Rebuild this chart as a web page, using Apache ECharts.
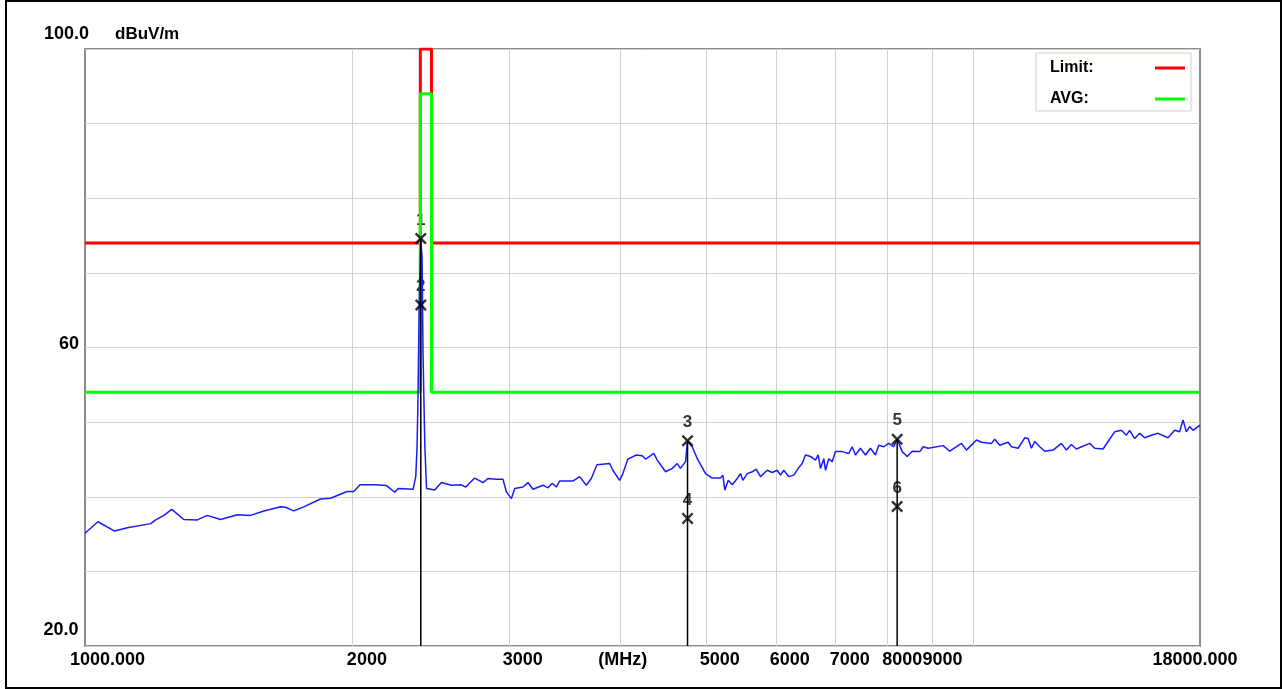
<!DOCTYPE html>
<html>
<head>
<meta charset="utf-8">
<script src="https://cdn.jsdelivr.net/npm/echarts@6/dist/echarts.min.js"></script>
<style>
html,body{margin:0;padding:0;background:#fff;}
#frame{position:absolute;left:5px;top:0;width:1277px;height:689px;border:2px solid #000;box-sizing:border-box;}
#chart{position:absolute;left:0;top:0;width:1282px;height:689px;}
</style>
</head>
<body>
<div id="frame"></div>
<div id="chart"></div>
<script>
// ---- data ----
const traceFreqMHz = [1000,1034,1080,1116,1186,1201,1227,1252,1292,1338,1373,1421,1484,1536,1590,1660,1682,1718,1763,1841,1890,1973,2007,2040,2120,2185,2232,2252,2341,2357,2365,2371,2378,2388,2396,2402,2413,2424,2476,2519,2585,2653,2683,2746,2806,2842,2905,2955,2981,3020,3046,3112,3153,3194,3278,3320,3358,3393,3422,3542,3604,3668,3715,3770,3896,3929,3998,4032,4085,4175,4240,4277,4370,4408,4504,4583,4643,4682,4743,4768,4827,4890,4996,5083,5194,5225,5252,5299,5354,5424,5470,5503,5566,5639,5697,5761,5862,5938,6016,6067,6119,6199,6280,6362,6418,6473,6558,6643,6690,6730,6788,6818,6876,6937,6997,7119,7242,7306,7369,7465,7562,7661,7760,7827,7929,8032,8137,8210,8318,8426,8536,8706,8783,8897,9250,9410,9699,9825,10083,10215,10483,10573,10710,10946,11040,11234,11428,11529,11628,11728,11880,12035,12300,12567,12731,12897,13065,13523,13700,14001,14183,14428,14681,14873,15000,15196,15394,15595,15868,16146,16569,16855,17075,17226,17374,17523,17678,18000];
const traceLevel = [35.1,36.65,35.4,35.85,36.4,36.9,37.5,38.3,36.95,36.9,37.5,36.95,37.6,37.5,38.1,38.65,38.6,38.1,38.65,39.7,39.8,40.7,40.7,41.6,41.6,41.5,40.6,41.1,41.0,42.7,46.7,53.4,66.0,74.6,72.0,59.0,46.9,41.1,40.9,41.9,41.55,41.6,41.3,42.5,41.9,42.45,42.35,42.35,40.65,39.75,41.1,41.3,41.9,41.0,41.55,41.2,41.8,41.3,42.1,42.1,42.7,41.55,42.45,44.3,44.45,43.55,42.2,43.1,45.05,45.6,45.5,45.05,45.8,44.9,43.35,43.8,44.45,43.8,44.7,47.45,46.7,45.1,43.1,42.5,42.5,42.9,40.9,42.2,41.6,42.45,43.1,42.2,43.1,43.35,43.7,42.7,43.55,43.25,43.55,42.9,43.55,42.7,42.9,43.9,44.45,45.6,45.4,44.9,45.6,43.8,45.1,43.55,45.1,44.7,46.05,46.05,45.8,46.7,45.6,46.5,45.6,46.5,45.6,46.9,46.7,47.15,46.7,47.7,46.05,45.4,46.1,46.05,46.7,46.5,46.85,46.1,47.15,46.25,47.6,47.3,47.15,47.7,46.9,47.3,46.7,46.5,47.9,47.8,46.5,47.4,46.7,46.1,46.25,47.15,46.25,47.0,46.4,47.15,46.5,46.4,47.4,48.7,48.9,48.25,48.9,47.8,48.5,47.9,48.25,48.5,47.9,48.9,48.7,50.3,48.7,49.4,48.9,49.6];

const limitFreqMHz = [1000,2385,2385,2455,2455,18000];
const limitLevel   = [74,74,100,100,74,74];
const avgFreqMHz   = [1000,2385,2385,2455,2455,18000];
const avgLevel     = [54,54,94,94,54,54];

const markerFreqMHz = [2388,2388,4768,4768,8210,8210];
const markerLevel   = [74.6,65.7,47.5,37.1,47.7,38.7];
const markerNames   = ['1','2','3','4','5','6'];

const xGridValues  = [2000,3000,4000,5000,6000,7000,8000,9000,10000];
const xLabelValues = [1000,2000,3000,4000,5000,6000,7000,8000,9000,18000];
const xLabelTexts  = ['1000.000','2000','3000','(MHz)','5000','6000','7000','8000','9000','18000.000'];
const yLabelValues = [20,60,100];
const yLabelTexts  = ['20.0','60','100.0'];

// ---- build ----
const FONT = "'Liberation Sans', Arial, sans-serif";
const zip = (a,b) => a.map((v,i)=>[v,b[i]]);

const xRichKeys = ['s0','s1','s2','s3','s4','s5','s6','s7','s8','s9'];
const xPads = [[0,0,0,45],[0,0,0,29],[0,0,0,28],[0,0,0,6],[0,0,0,28],[0,0,0,27],[0,0,0,28],[0,0,0,30],[0,0,0,20],[0,10,0,0]];
const xRich = {};
xRichKeys.forEach((k,i)=>{ xRich[k] = {fontFamily:FONT,fontWeight:'bold',fontSize:18,color:'#000',padding:xPads[i]}; });

const yRich = {
  y0:{fontFamily:FONT,fontWeight:'bold',fontSize:18,color:'#000',padding:[0,16,32,0]},
  y1:{fontFamily:FONT,fontWeight:'bold',fontSize:18,color:'#000',padding:[0,0,7,0]},
  y2:{fontFamily:FONT,fontWeight:'bold',fontSize:18,color:'#000',padding:[0,5,30,0]}
};

const markerLineSeries = [];
const seen = {};
markerFreqMHz.forEach((f,i)=>{
  if (seen[f] === undefined || markerLevel[i] > seen[f]) seen[f] = markerLevel[i];
});
Object.keys(seen).forEach(k=>{
  const f = Number(k);
  markerLineSeries.push({
    type:'line', silent:true, symbol:'none', z:4,
    data:[[f, seen[k]],[f, 20]],
    lineStyle:{color:'#000', width:1.5}
  });
});

const xPath = 'path://M0,1.4L1.4,0L5,3.6L8.6,0L10,1.4L6.4,5L10,8.6L8.6,10L5,6.4L1.4,10L0,8.6L3.6,5Z';

const chart = echarts.init(document.getElementById('chart'), null, {renderer:'canvas'});
chart.setOption({
  animation:false,
  backgroundColor:'transparent',
  textStyle:{fontFamily:FONT},
  grid:{left:85, right:82, top:49, bottom:43, show:true, borderColor:'#8c8c8c', borderWidth:2, backgroundColor:'#fff', outerBoundsMode:'none', containLabel:false},
  legend:{
    show:true, orient:'vertical', left:1036, top:53,
    data:['Limit:','AVG:'], align:'right', icon:'rect', itemWidth:30, itemHeight:3, itemGap:15,
    backgroundColor:'#fff', borderColor:'#d4d0c8', borderWidth:1, padding:[7,6,4,14],
    selectedMode:false,
    formatter:'{n|{name}}',
    textStyle:{fontFamily:FONT, fontWeight:'bold', fontSize:16, color:'#000',
      rich:{n:{width:100, align:'left', fontFamily:FONT, fontWeight:'bold', fontSize:16, color:'#000'}}}
  },
  xAxis:{
    type:'log', logBase:10, min:1000, max:18000,
    axisLine:{show:false},
    axisTick:{show:false, customValues:xGridValues},
    splitLine:{show:true, lineStyle:{color:'#d4d0c8', width:1}},
    axisLabel:{
      customValues:xLabelValues, margin:5,
      fontFamily:FONT, fontWeight:'bold', fontSize:18, color:'#000',
      formatter:function(v){ const i = xLabelValues.indexOf(v); return i<0 ? '' : '{'+xRichKeys[i]+'|'+xLabelTexts[i]+'}'; },
      rich:xRich
    }
  },
  yAxis:{
    type:'value', min:20, max:100, interval:10,
    name:'dBuV/m', nameLocation:'end', nameGap:6,
    nameTextStyle:{fontFamily:FONT, fontWeight:'bold', fontSize:17, color:'#000', align:'left', padding:[0,0,0,30]},
    axisLine:{show:false}, axisTick:{show:false},
    splitLine:{show:true, lineStyle:{color:'#d4d0c8', width:1}},
    axisLabel:{
      customValues:yLabelValues, margin:16, align:'center',
      fontFamily:FONT, fontWeight:'bold', fontSize:18, color:'#000',
      formatter:function(v){ const i = yLabelValues.indexOf(v); return i<0 ? '' : '{y'+i+'|'+yLabelTexts[i]+'}'; },
      rich:yRich
    }
  },
  series:[
    {name:'Limit:', type:'line', symbol:'none', z:3, data:zip(limitFreqMHz, limitLevel),
     itemStyle:{color:'#ff0000'}, lineStyle:{color:'#ff0000', width:3}},
    {name:'AVG:', type:'line', symbol:'none', z:3, data:zip(avgFreqMHz, avgLevel),
     itemStyle:{color:'#00ff00'}, lineStyle:{color:'#00ff00', width:3}},
    {name:'Trace', type:'line', symbol:'none', z:4, data:zip(traceFreqMHz, traceLevel),
     lineStyle:{color:'#1a1aff', width:1.5}},
    ...markerLineSeries,
    {name:'MarkerLabels', type:'scatter', z:2, symbol:'circle', symbolSize:12,
     itemStyle:{color:'transparent'},
     data:markerFreqMHz.map((f,i)=>({value:[f, markerLevel[i]], name:markerNames[i]})),
     label:{show:true, position:'top', distance:4, formatter:'{b}', fontFamily:FONT, fontWeight:'bold', fontSize:17, color:'#000'}},
    {name:'Markers', type:'scatter', z:6, symbol:xPath, symbolSize:12,
     itemStyle:{color:'#000'},
     data:zip(markerFreqMHz, markerLevel)}
  ]
});
</script>
</body>
</html>
